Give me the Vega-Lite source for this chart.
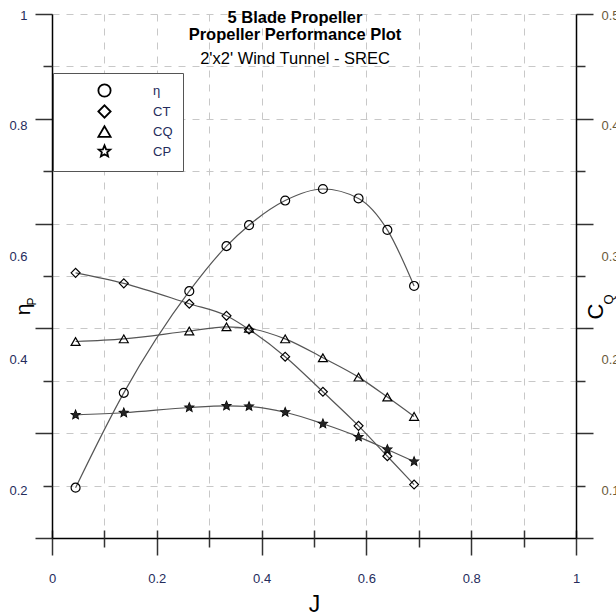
{
  "$schema": "https://vega.github.io/schema/vega-lite/v6.json",
  "width": 524,
  "height": 524,
  "autosize": "none",
  "padding": {"left": 52, "top": 14, "right": 40, "bottom": 78},
  "background": "white",
  "title": {
    "text": ["5 Blade Propeller", "Propeller Performance  Plot"],
    "subtitle": "2'x2' Wind Tunnel - SREC",
    "anchor": "middle",
    "frame": "group",
    "dx": -19,
    "offset": -58,
    "font": "Liberation Sans",
    "fontSize": 16.5,
    "fontWeight": "bold",
    "lineHeight": 17,
    "color": "black",
    "subtitleFont": "Liberation Sans",
    "subtitleFontSize": 16.5,
    "subtitleColor": "black",
    "subtitlePadding": 7
  },
  "config": {
    "view": {"stroke": null},
    "axis": {"labelFont": "Liberation Sans", "titleFont": "Liberation Sans", "labelFlush": false, "labelOverlap": false}
  },
  "data": {
    "values": [
      {"J": 0.045, "series": "η", "v": 0.096},
      {"J": 0.137, "series": "η", "v": 0.277},
      {"J": 0.262, "series": "η", "v": 0.471},
      {"J": 0.333, "series": "η", "v": 0.557},
      {"J": 0.376, "series": "η", "v": 0.597},
      {"J": 0.445, "series": "η", "v": 0.644},
      {"J": 0.517, "series": "η", "v": 0.666},
      {"J": 0.585, "series": "η", "v": 0.648},
      {"J": 0.640, "series": "η", "v": 0.588},
      {"J": 0.691, "series": "η", "v": 0.481},
      {"J": 0.045, "series": "CT", "v": 0.506},
      {"J": 0.137, "series": "CT", "v": 0.486},
      {"J": 0.262, "series": "CT", "v": 0.447},
      {"J": 0.333, "series": "CT", "v": 0.424},
      {"J": 0.376, "series": "CT", "v": 0.398},
      {"J": 0.445, "series": "CT", "v": 0.346},
      {"J": 0.517, "series": "CT", "v": 0.279},
      {"J": 0.585, "series": "CT", "v": 0.214},
      {"J": 0.640, "series": "CT", "v": 0.156},
      {"J": 0.691, "series": "CT", "v": 0.102},
      {"J": 0.045, "series": "CQ", "v": 0.375},
      {"J": 0.137, "series": "CQ", "v": 0.380},
      {"J": 0.262, "series": "CQ", "v": 0.395},
      {"J": 0.333, "series": "CQ", "v": 0.403},
      {"J": 0.376, "series": "CQ", "v": 0.400},
      {"J": 0.445, "series": "CQ", "v": 0.380},
      {"J": 0.517, "series": "CQ", "v": 0.344},
      {"J": 0.585, "series": "CQ", "v": 0.307},
      {"J": 0.640, "series": "CQ", "v": 0.269},
      {"J": 0.691, "series": "CQ", "v": 0.232},
      {"J": 0.045, "series": "CP", "v": 0.235},
      {"J": 0.137, "series": "CP", "v": 0.239},
      {"J": 0.262, "series": "CP", "v": 0.249},
      {"J": 0.333, "series": "CP", "v": 0.252},
      {"J": 0.376, "series": "CP", "v": 0.251},
      {"J": 0.445, "series": "CP", "v": 0.240},
      {"J": 0.517, "series": "CP", "v": 0.218},
      {"J": 0.585, "series": "CP", "v": 0.193},
      {"J": 0.640, "series": "CP", "v": 0.169},
      {"J": 0.691, "series": "CP", "v": 0.146}
    ]
  },
  "layer": [
    {
      "mark": {"type": "line", "color": "#555555", "strokeWidth": 1.2, "interpolate": "monotone"},
      "encoding": {
        "x": {"field": "J", "type": "quantitative", "scale": {"domain": [0, 1], "nice": false, "zero": false},
          "axis": {"orient": "bottom", "values": [0, 0.2, 0.4, 0.6, 0.8, 1], "labelExpr": "'' + datum.value",
            "labelFontSize": 13, "labelColor": "#252c5c", "labelPadding": 17,
            "grid": true, "gridColor": "#c8c8c8", "gridDash": [7, 7], "gridWidth": 1,
            "domain": true, "domainColor": "black", "domainWidth": 1.5,
            "ticks": true, "tickColor": "#333333", "tickWidth": 1.5, "tickSize": 17,
            "title": "J", "titleFontSize": 23, "titleFontWeight": "normal", "titleColor": "black", "titlePadding": 8}},
        "y": {"field": "v", "type": "quantitative", "scale": {"domain": [0, 1], "nice": false, "zero": false},
          "axis": {"orient": "left", "values": [0, 0.2, 0.4, 0.6, 0.8, 1], "labels": false, "title": null,
            "grid": true, "gridColor": "#c8c8c8", "gridDash": [7, 7], "gridWidth": 1,
            "domain": true, "domainColor": "black", "domainWidth": 1.5,
            "ticks": true, "tickColor": "#333333", "tickWidth": 1.5, "tickSize": 17}},
        "detail": {"field": "series", "type": "nominal"}
      }
    },
    {
      "mark": {"type": "point", "filled": false, "color": "black", "strokeWidth": 1.2, "size": 80, "opacity": 1},
      "encoding": {
        "x": {"field": "J", "type": "quantitative", "scale": {"domain": [0, 1], "nice": false, "zero": false},
          "axis": {"orient": "bottom", "values": [0.1, 0.3, 0.5, 0.7, 0.9], "labels": false, "title": null,
            "grid": true, "gridColor": "#c8c8c8", "gridDash": [7, 7], "gridWidth": 1,
            "domain": false, "ticks": true, "tickColor": "#333333", "tickWidth": 1.5, "tickSize": 9}},
        "y": {"field": "v", "type": "quantitative", "scale": {"domain": [0, 1], "nice": false, "zero": false},
          "axis": {"orient": "left", "values": [0.1, 0.3, 0.5, 0.7, 0.9], "labels": false, "title": null,
            "grid": true, "gridColor": "#c8c8c8", "gridDash": [7, 7], "gridWidth": 1,
            "domain": false, "ticks": true, "tickColor": "#333333", "tickWidth": 1.5, "tickSize": 9}},
        "shape": {"field": "series", "type": "nominal",
          "scale": {"domain": ["η", "CT", "CQ", "CP"], "range": ["circle", "diamond", "triangle-up", "M0,-1L0.26,-0.36L0.95,-0.31L0.43,0.14L0.59,0.81L0,0.45L-0.59,0.81L-0.43,0.14L-0.95,-0.31L-0.26,-0.36Z"]},
          "legend": {"orient": "none", "legendX": 1, "legendY": 59, "title": null,
            "fillColor": "white", "strokeColor": "#555555", "padding": 10, "rowPadding": 0,
            "symbolSize": 150, "symbolStrokeColor": "black", "symbolStrokeWidth": 1.8,
            "symbolOffset": 34, "labelOffset": 41,
            "labelFont": "Liberation Sans", "labelFontSize": 13, "labelColor": "#252c5c"}}
      }
    },
    {
      "transform": [{"filter": "datum.series == 'CP'"}],
      "mark": {"type": "point", "filled": true, "color": "#222222", "opacity": 1, "size": 80,
        "shape": "M0,-1L0.26,-0.36L0.95,-0.31L0.43,0.14L0.59,0.81L0,0.45L-0.59,0.81L-0.43,0.14L-0.95,-0.31L-0.26,-0.36Z"},
      "encoding": {
        "x": {"field": "J", "type": "quantitative", "scale": {"domain": [0, 1], "nice": false, "zero": false},
          "axis": {"orient": "bottom", "values": [0, 0.1, 0.2, 0.3, 0.4, 0.5, 0.6, 0.7, 0.8, 0.9, 1], "labels": false, "title": null,
            "grid": false, "domain": false, "ticks": true, "tickColor": "#333333", "tickWidth": 1.5, "tickSize": -8}},
        "y": {"field": "v", "type": "quantitative", "scale": {"domain": [0, 1], "nice": false, "zero": false},
          "axis": {"orient": "left", "values": [0.998, 0.788, 0.538, 0.34, 0.09],
            "labelExpr": "datum.value > 0.9 ? '1' : datum.value > 0.7 ? '0.8' : datum.value > 0.5 ? '0.6' : datum.value > 0.3 ? '0.4' : '0.2'",
            "labelFontSize": 13, "labelColor": "#252c5c", "labelPadding": 25,
            "grid": false, "domain": false, "ticks": false,
            "title": "η", "titleFontSize": 21, "titleFontWeight": "normal", "titleColor": "black",
            "titleAngle": 270, "titleAlign": "center", "titleBaseline": "middle", "titleX": -29, "titleY": 295}}
      }
    },
    {
      "mark": {"type": "point", "opacity": 0},
      "encoding": {
        "x": {"field": "J", "type": "quantitative", "scale": {"domain": [0, 1], "nice": false, "zero": false}, "axis": null},
        "y": {"field": "v", "type": "quantitative", "scale": {"domain": [0, 1], "nice": false, "zero": false},
          "axis": {"orient": "left", "labels": false, "grid": false, "domain": false, "ticks": false,
            "title": "P", "titleFontSize": 12, "titleFontWeight": "normal", "titleColor": "black",
            "titleAngle": 270, "titleAlign": "center", "titleBaseline": "middle", "titleX": -21, "titleY": 287}}
      }
    },
    {
      "mark": {"type": "point", "opacity": 0},
      "encoding": {
        "x": {"field": "J", "type": "quantitative", "scale": {"domain": [0, 1], "nice": false, "zero": false}, "axis": null},
        "y": {"field": "v", "type": "quantitative", "scale": {"domain": [0, 1], "nice": false, "zero": false},
          "axis": {"orient": "right", "values": [0, 0.2, 0.4, 0.6, 0.8, 1], "labels": false, "title": null,
            "grid": false, "domain": true, "domainColor": "black", "domainWidth": 1.5,
            "ticks": true, "tickColor": "#333333", "tickWidth": 1.5, "tickSize": 17}}
      }
    },
    {
      "mark": {"type": "point", "opacity": 0},
      "encoding": {
        "x": {"field": "J", "type": "quantitative", "scale": {"domain": [0, 1], "nice": false, "zero": false}, "axis": null},
        "y": {"field": "v", "type": "quantitative", "scale": {"domain": [0, 1], "nice": false, "zero": false},
          "axis": {"orient": "right", "values": [0.1, 0.3, 0.5, 0.7, 0.9], "labels": false, "title": null,
            "grid": false, "domain": false,
            "ticks": true, "tickColor": "#333333", "tickWidth": 1.5, "tickSize": 9}}
      }
    },
    {
      "mark": {"type": "point", "opacity": 0},
      "encoding": {
        "x": {"field": "J", "type": "quantitative", "scale": {"domain": [0, 1], "nice": false, "zero": false}, "axis": null},
        "y": {"field": "v", "type": "quantitative", "scale": {"domain": [0, 1], "nice": false, "zero": false},
          "axis": {"orient": "right", "values": [0.998, 0.788, 0.538, 0.34, 0.09],
            "labelExpr": "datum.value > 0.9 ? '0.5' : datum.value > 0.7 ? '0.4' : datum.value > 0.5 ? '0.3' : datum.value > 0.3 ? '0.2' : '0.1'",
            "labelFontSize": 13, "labelColor": "#6a5a3a", "labelPadding": 25,
            "grid": false, "domain": false, "ticks": false,
            "title": "C", "titleFontSize": 22, "titleFontWeight": "normal", "titleColor": "black",
            "titleAngle": 270, "titleAlign": "center", "titleBaseline": "middle", "titleX": 19, "titleY": 297}}
      }
    },
    {
      "mark": {"type": "point", "opacity": 0},
      "encoding": {
        "x": {"field": "J", "type": "quantitative", "scale": {"domain": [0, 1], "nice": false, "zero": false}, "axis": null},
        "y": {"field": "v", "type": "quantitative", "scale": {"domain": [0, 1], "nice": false, "zero": false},
          "axis": {"orient": "right", "labels": false, "grid": false, "domain": false, "ticks": false,
            "title": "Q", "titleFontSize": 13, "titleFontWeight": "normal", "titleColor": "black",
            "titleAngle": 270, "titleAlign": "center", "titleBaseline": "middle", "titleX": 32, "titleY": 285}}
      }
    }
  ],
  "resolve": {"axis": {"x": "independent", "y": "independent"}}
}
